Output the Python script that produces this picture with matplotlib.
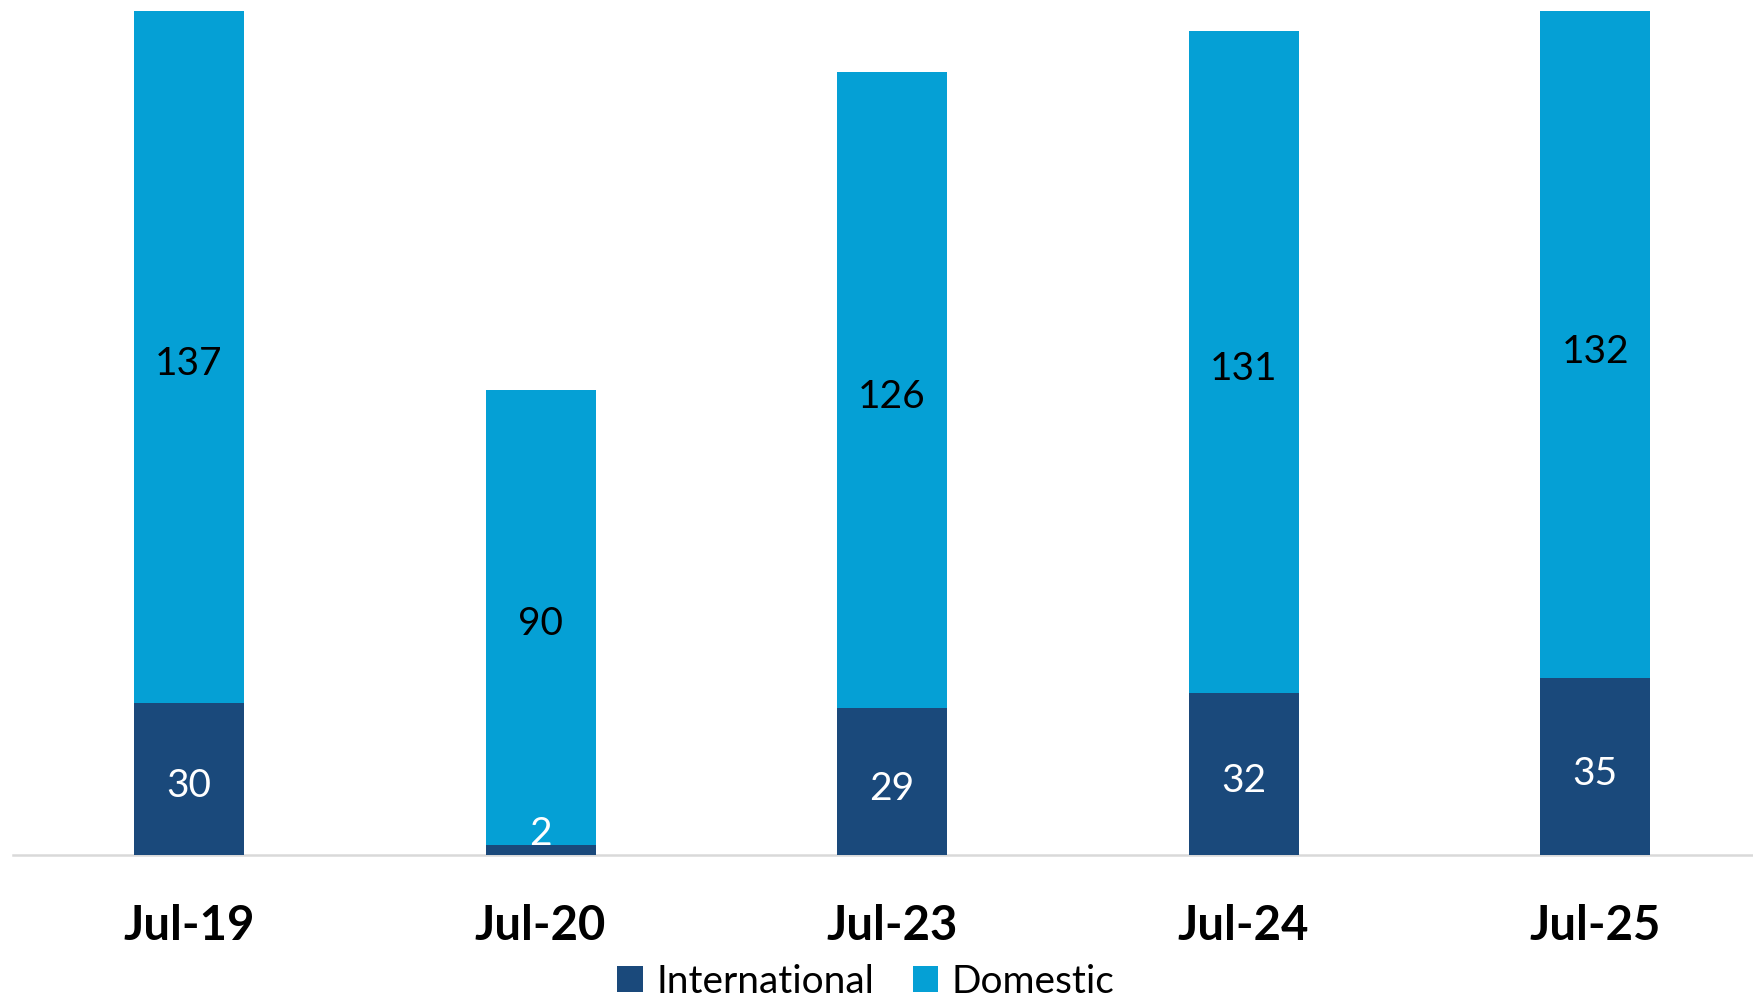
import matplotlib
matplotlib.use('Agg')
import matplotlib.pyplot as plt
import numpy as np

# Data
months = ['Jul-19', 'Jul-20', 'Jul-23', 'Jul-24', 'Jul-25']
international = [30, 2, 29, 32, 35]
domestic = [137, 90, 126, 131, 132]

dark_blue = '#1A497B'
light_blue = '#05A0D5'

plt.rcParams['font.family'] = ['Lato', 'DejaVu Sans']

fig = plt.figure(figsize=(17.53, 9.99), dpi=100)
# plot area runs slightly past the right edge, like the original
ax = fig.add_axes([13.25 / 1753, 144 / 999, 1757.75 / 1753, 844 / 999])

x = np.arange(len(months))
width = 0.313

ax.bar(x, international, width, color=dark_blue, label='International', zorder=3)
ax.bar(x, domestic, width, bottom=international, color=light_blue,
       label='Domestic', zorder=3)

# Data labels (nudged down a little to sit like the original)
for i in range(len(months)):
    intl = international[i]
    dom = domestic[i]
    if intl < 5:
        ax.annotate(str(intl), (x[i], intl), xytext=(0, -5),
                    textcoords='offset points', ha='center', va='bottom',
                    color='white', fontsize=28, zorder=4)
    else:
        ax.annotate(str(intl), (x[i], intl / 2), xytext=(0, -5),
                    textcoords='offset points', ha='center', va='center',
                    color='white', fontsize=28, zorder=4)
    ax.annotate(str(dom), (x[i], intl + dom / 2), xytext=(0, -5),
                textcoords='offset points', ha='center', va='center',
                color='black', fontsize=28, zorder=4)

ax.set_xlim(-0.5, 4.5)
ax.set_ylim(0, 167)
ax.set_xticks(x)
ax.set_xticklabels(months, fontsize=34, fontweight='bold')
ax.tick_params(axis='x', length=0, pad=35)
ax.set_yticks([])

for side in ['top', 'right', 'left']:
    ax.spines[side].set_visible(False)
ax.spines['bottom'].set_color('#D9D9D9')
ax.spines['bottom'].set_linewidth(1.8)

fig.legend(loc='center', bbox_to_anchor=(866 / 1753, 1 - 982 / 999),
           ncol=2, frameon=False, fontsize=28, handlelength=0.65,
           handleheight=0.65, handletextpad=0.35, columnspacing=1.0)

fig.savefig('out.png', dpi=100)
